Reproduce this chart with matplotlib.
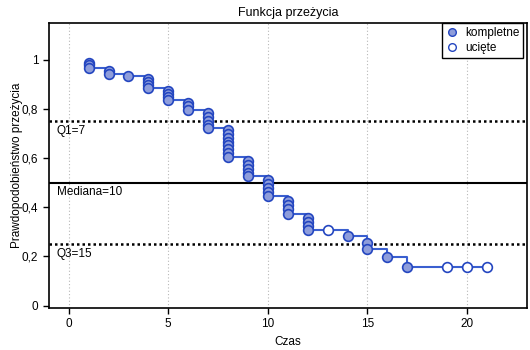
import matplotlib
matplotlib.use("Agg")
import matplotlib.pyplot as plt
from matplotlib.lines import Line2D

# Observation times and Kaplan-Meier survival at each observation
times = [1, 1, 1, 2, 2, 3, 4, 4, 4, 4, 5, 5, 5, 5, 6, 6, 6,
         7, 7, 7, 7, 7, 8, 8, 8, 8, 8, 8, 8, 8,
         9, 9, 9, 9, 9, 10, 10, 10, 10, 10, 11, 11, 11, 11,
         12, 12, 12, 12, 13, 14, 15, 15, 16, 17, 19, 20, 21]
survival = [0.988, 0.977, 0.966, 0.955, 0.943, 0.932,
            0.920, 0.909, 0.898, 0.886,
            0.874, 0.862, 0.849, 0.836,
            0.823, 0.810, 0.797,
            0.783, 0.768, 0.752, 0.736, 0.720,
            0.713, 0.696, 0.682, 0.667, 0.652, 0.637, 0.621, 0.604,
            0.589, 0.573, 0.557, 0.541, 0.526,
            0.509, 0.493, 0.477, 0.461, 0.444,
            0.424, 0.408, 0.391, 0.373,
            0.356, 0.339, 0.323, 0.307,
            0.307, 0.281, 0.255, 0.230, 0.199, 0.157,
            0.157, 0.157, 0.157]
censored = [0] * 48 + [1, 0, 0, 0, 0, 0, 1, 1, 1]

quartile_levels = [0.75, 0.50, 0.25]
quartile_labels = ["Q1=7", "Mediana=10", "Q3=15"]
quartile_styles = [":", "-", ":"]

x_ticks = [0, 5, 10, 15, 20]
y_ticks = [0, 0.2, 0.4, 0.6, 0.8, 1.0]
y_tick_labels = ["0", "0,2", "0,4", "0,6", "0,8", "1"]

line_color = "#3a5fd0"
edge_color = "#2446c0"
fill_color = "#8e9ddb"

plt.rcParams["font.family"] = ["Liberation Sans", "DejaVu Sans"]
plt.rcParams["font.size"] = 8.5

fig = plt.figure(figsize=(5.3, 3.5), dpi=100)
ax = fig.add_axes([0.092, 0.12, 0.902, 0.815])

# Step curve: vertical drop through each time's observations, flat in between
xs, ys = [], []
prev = None
for t, s in zip(times, survival):
    if prev is not None and t != prev:
        xs.append(t)
        ys.append(ys[-1])
    xs.append(t)
    ys.append(s)
    prev = t
ax.plot(xs, ys, color=line_color, lw=1.5, zorder=3)

# Quartile reference lines
for lvl, lab, ls in zip(quartile_levels, quartile_labels, quartile_styles):
    if ls == ":":
        ax.axhline(lvl, color="black", lw=1.8, ls=(0, (1, 1.2)), zorder=2)
    else:
        ax.axhline(lvl, color="black", lw=1.5, ls="-", zorder=2)
    ax.text(-0.6, lvl - 0.015, lab, ha="left", va="top", fontsize=8.5,
            color="black", zorder=4)

done_t = [t for t, c in zip(times, censored) if not c]
done_s = [s for s, c in zip(survival, censored) if not c]
cens_t = [t for t, c in zip(times, censored) if c]
cens_s = [s for s, c in zip(survival, censored) if c]

ax.plot(done_t, done_s, ls="none", marker="o", ms=7, mfc=fill_color,
        mec=edge_color, mew=1.2, zorder=5)
ax.plot(cens_t, cens_s, ls="none", marker="o", ms=7, mfc="white",
        mec=edge_color, mew=1.2, zorder=5)

ax.set_xlim(-1, 23)
ax.set_ylim(-0.01, 1.15)
ax.set_xticks(x_ticks)
ax.set_yticks(y_ticks)
ax.set_yticklabels(y_tick_labels)
ax.grid(axis="x", color="#b8b8b8", ls=(0, (1, 2)), lw=0.8)
ax.set_axisbelow(True)
ax.tick_params(direction="out", length=4, width=1, colors="black",
               labelsize=8.5)
for sp in ax.spines.values():
    sp.set_linewidth(1.2)

ax.set_title("Funkcja przeżycia", fontsize=9, pad=5)
ax.set_xlabel("Czas", fontsize=8.5, labelpad=4)
ax.set_ylabel("Prawdopodobieństwo przeżycia", fontsize=8.5, labelpad=-1)

handles = [
    Line2D([], [], ls="none", marker="o", ms=5.5, mfc=fill_color,
           mec=edge_color, mew=1.0),
    Line2D([], [], ls="none", marker="o", ms=5.5, mfc="white",
           mec=edge_color, mew=1.0),
]
leg = ax.legend(handles, ["kompletne", "ucięte"], loc="upper right",
                bbox_to_anchor=(0.993, 1.0), fancybox=False,
                edgecolor="black", framealpha=1, fontsize=8.5,
                handletextpad=0.6, borderpad=0.35, labelspacing=0.25,
                handlelength=1.0, borderaxespad=0)
leg.get_frame().set_linewidth(1.0)

fig.savefig("out.png", dpi=100)
